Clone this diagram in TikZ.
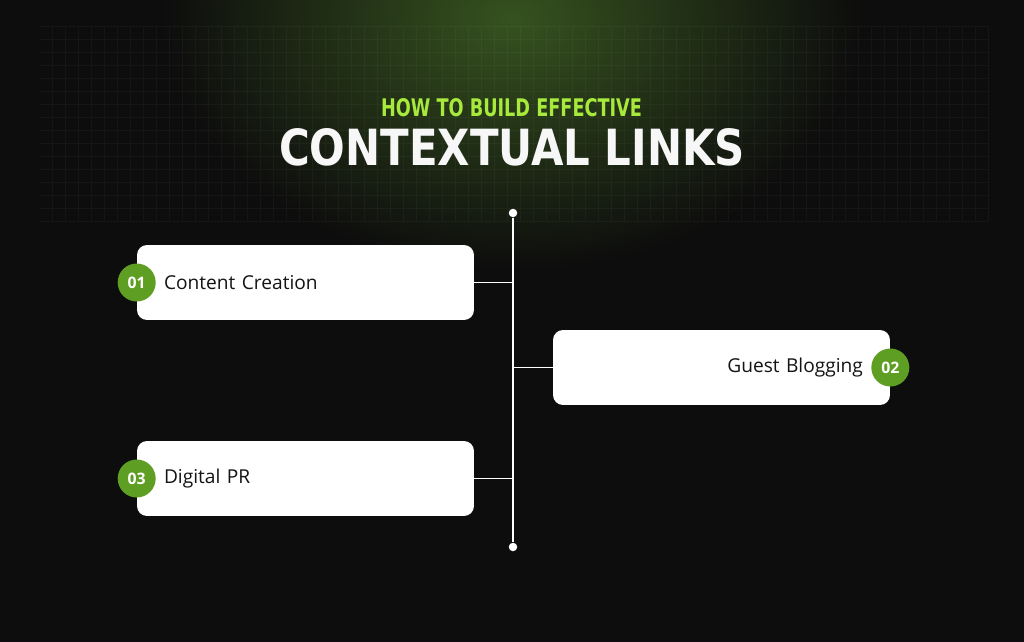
\documentclass[tikz,border=0pt]{standalone}
\usepackage{graphicx}
\usepackage{xcolor}
\usepackage{fontspec}
\setmainfont{Open Sans}
\newfontfamily\headfont{DejaVu Sans Condensed Bold}
\usepackage{tikz}
\usetikzlibrary{positioning}

\definecolor{bgdark}{HTML}{0D0D0D}
\definecolor{glow}{HTML}{36521F}
\definecolor{badgegreen}{HTML}{5E9E22}
\definecolor{limegreen}{HTML}{A8EA3C}
\definecolor{inkdark}{HTML}{141414}

\begin{document}
\begin{tikzpicture}[x=0.02cm, y=-0.02cm,
    card/.style={rectangle, rounded corners=0.2cm, fill=white, text=inkdark,
                 minimum width=6.74cm, minimum height=1.5cm, text width=5.66cm,
                 inner xsep=0.54cm, font=\fontsize{10.9}{12}\selectfont},
    badge/.style={circle, fill=badgegreen, minimum size=0.76cm, inner sep=0pt,
                  text=white, font=\bfseries\fontsize{9}{10}\selectfont},
    dot/.style={circle, fill=white, minimum size=0.17cm, inner sep=0pt},
    rail/.style={white, line width=0.85pt},
    tick/.style={white, line width=0.6pt}]

    % background
    \fill[bgdark] (0,0) rectangle (1024,642);
    \useasboundingbox (0,0) rectangle (1024,642);
    \shade[inner color=glow, outer color=bgdark] (512,20) ellipse [x radius=7cm, y radius=5cm];
    \draw[white, opacity=0.035, line width=0.3pt, step=0.26cm] (39,26) grid (988,221);

    % title
    \node[inner sep=0pt, text=limegreen] (sub) at (511.5,108)
        {\resizebox{5.22cm}{0.36cm}{\headfont HOW TO BUILD EFFECTIVE}};
    \node[inner sep=0pt, text=gray!6] (title) at (512,147.5)
        {\resizebox{9.32cm}{0.74cm}{\headfont CONTEXTUAL LINKS}};

    % timeline
    \node[dot] (top) at (513,213) {};
    \node[dot] (bot) at (513,547) {};
    \draw[rail] (top) -- (bot);

    % cards
    \node[card, align=left]  (c1) at (305.5,282.5) {Content Creation};
    \node[card, align=right] (c2) at (721.5,367.5) {Guest Blogging};
    \node[card, align=left]  (c3) at (305.5,478.5) {Digital PR};

    \node[badge] (b1) at (c1.west) {01};
    \node[badge] (b2) at (c2.east) {02};
    \node[badge] (b3) at (c3.west) {03};

    \draw[tick] (c1.east) -- (c1.east -| top);
    \draw[tick] (c2.west) -- (c2.west -| top);
    \draw[tick] (c3.east) -- (c3.east -| top);
\end{tikzpicture}
\end{document}
